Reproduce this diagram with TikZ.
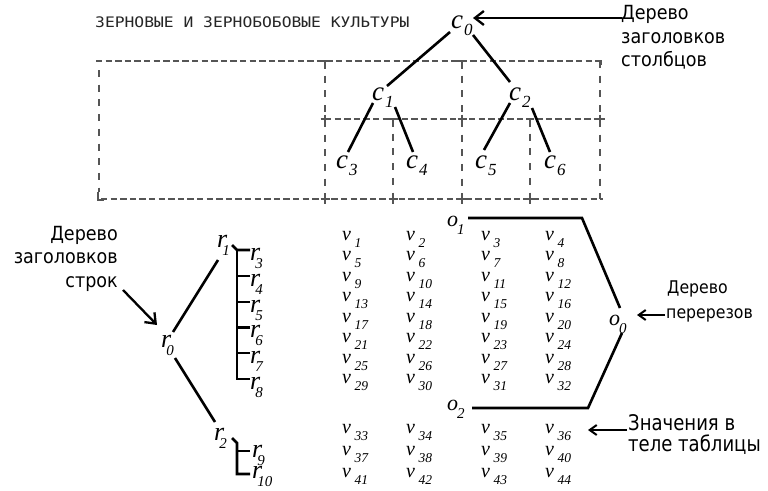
\documentclass[tikz,border=0pt]{standalone}
\usepackage{fontspec}
\setmainfont{Liberation Serif}
\newfontfamily\labfont{DejaVu Sans}
\newfontfamily\ttlfont{DejaVu Sans Mono}
\usetikzlibrary{arrows.meta}
\definecolor{gridgray}{HTML}{555555}
\newcommand\cl[1]{{\fontsize{27}{27}\selectfont\itshape c}\kern1pt\raisebox{-7pt}{\fontsize{17}{17}\selectfont\itshape #1}}
\newcommand\vl[1]{{\fontsize{20}{20}\selectfont\itshape v}\kern3.5pt\raisebox{-7pt}{\fontsize{13.5}{13.5}\selectfont\itshape #1}}
\newcommand\rl[1]{{\fontsize{26}{26}\selectfont\itshape r}\kern-5pt\raisebox{-8pt}{\fontsize{15}{15}\selectfont\itshape #1}}
\newcommand\ol[1]{{\fontsize{22}{22}\selectfont\itshape o}\kern-1pt\raisebox{-8pt}{\fontsize{15}{15}\selectfont\itshape #1}}
\newcommand\lt[1]{\scalebox{0.9}[1]{#1}}
\newcommand\ltn[1]{\scalebox{0.84}[1]{#1}}
\begin{document}
\begin{tikzpicture}[x=1pt,y=-1pt,
  lab/.style={inner sep=0pt,anchor=base west},
  txt/.style={inner sep=0pt,font={\labfont\fontsize{19.5}{19.5}\selectfont}},
  txtsm/.style={inner sep=0pt,font={\labfont\fontsize{17.5}{17.5}\selectfont}},
  txtbig/.style={inner sep=0pt,font={\labfont\fontsize{21.5}{21.5}\selectfont}},
  edge/.style={line width=2.6pt,line join=miter},
  hgrid/.style={line width=1.2pt,draw=gridgray,dash pattern=on 6.3pt off 3.3pt},
  vgrid/.style={line width=1.2pt,draw=gridgray,dash pattern=on 7pt off 7.7pt},
  gmark/.style={line width=1.2pt,draw=gridgray},
  arr/.style={line width=2.3pt,-{Straight Barb[length=9pt,width=14pt]}},
  arrsm/.style={line width=2pt,-{Straight Barb[length=7pt,width=10pt]}}]
\useasboundingbox (0,0) rectangle (768,490);
\fill[white] (0,0) rectangle (768,490);

% title
\node[lab,font={\ttlfont\fontsize{14.5}{14.5}\selectfont},text=black!85] (title) at (95,27)
  {\scalebox{1.125}[1]{ЗЕРНОВЫЕ И ЗЕРНОБОБОВЫЕ КУЛЬТУРЫ}};

% grid
\draw[hgrid] (96,61) -- (600,61);
\draw[hgrid] (325,119) -- (600,119);
\draw[hgrid] (101,199) -- (603,199);
\draw[vgrid] (99,70) -- (99,192);
\foreach \x in {325,462,600} \draw[vgrid] (\x,61) -- (\x,199);
\foreach \x in {393,530} \draw[vgrid] (\x,119) -- (\x,199);
\foreach \x in {325,462} \draw[gmark] (\x-4,61) -- (\x+4,61) (\x,61) -- (\x,69);
\foreach \x in {393,530} \draw[gmark] (\x-4,119) -- (\x+4,119) (\x,119) -- (\x,127);
\foreach \p in {(325,119),(462,119),(600,119),(325,199),(393,199),(462,199),(530,199)}
  \draw[gmark] \p ++(-4.5,0) -- ++(9,0) \p ++(0,-4.5) -- ++(0,9);
\draw[gmark] (98,192) -- (98,200) -- (104,200);
\draw[gmark] (596,61) -- (601,61) -- (601,65);

% column header tree
\node[lab] (c0) at (451,28) {\cl{0}};
\node[lab] (c1) at (372,100) {\cl{1}};
\node[lab] (c2) at (509,100) {\cl{2}};
\node[lab] (c3) at (336,168) {\cl{3}};
\node[lab] (c4) at (406,168) {\cl{4}};
\node[lab] (c5) at (475,168) {\cl{5}};
\node[lab] (c6) at (544,168) {\cl{6}};
\draw[edge] ([shift={(-1,4)}]c0.base west) -- ([shift={(15,-14)}]c1.base west);
\draw[edge] ([shift={(22,7)}]c0.base west) -- ([shift={(1,-18)}]c2.base west);
\draw[edge] ([shift={(1,3)}]c1.base west) -- ([shift={(12,-16)}]c3.base west);
\draw[edge] ([shift={(23,7)}]c1.base west) -- ([shift={(7,-16)}]c4.base west);
\draw[edge] ([shift={(1,3)}]c2.base west) -- ([shift={(9,-18)}]c5.base west);
\draw[edge] ([shift={(23,8)}]c2.base west) -- ([shift={(6,-16)}]c6.base west);

% values
\foreach \r/\y in {0/240,1/260.5,2/281,3/301.5,4/322,5/342.5,6/363,7/383.5,8/433,9/455,10/477}
  \foreach \c/\x in {1/342,2/406,3/481,4/545} {
    \pgfmathtruncatemacro\n{4*\r+\c}
    \node[lab] (v\n) at (\x,\y) {\vl{\n}};
  }

% row header tree
\node[lab] (r0) at (161,347) {\rl{0}};
\node[lab] (r1) at (217,247) {\rl{1}};
\node[lab] (r2) at (214,440) {\rl{2}};
\foreach \k/\y in {3/260,4/286,5/312,6/337.5,7/363,8/389}
  \node[lab] (r\k) at (250,\y) {\rl{\k}};
\node[lab] (r9) at (252,457) {\rl{9}};
\node[lab] (r10) at (252,478) {\rl{10}};
\draw[edge] ([shift={(12,-15)}]r0.base west) -- ([shift={(1,13)}]r1.base west);
\draw[edge] ([shift={(14,11)}]r0.base west) -- ([shift={(1,-18)}]r2.base west);
\draw[edge] ([shift={(15,-2)}]r1.base west) -- ([shift={(-13,-10)}]r3.base west) -- ([shift={(0,-10)}]r3.base west);
\draw[edge] ([shift={(-13,-10)}]r3.base west) |- ([shift={(0,-10)}]r8.base west);
\foreach \k in {4,5,6,7}
  \draw[edge] ([shift={(0,-10)}]r\k.base west) -- ++(-13,0);
\draw[edge] ([shift={(18,-2)}]r2.base west) -- ++(5,5) |- ([shift={(-2,-4)}]r10.base west);
\draw[edge] ([shift={(-15,-6)}]r9.base west) -- ([shift={(-2,-6)}]r9.base west);

% cut tree
\node[lab] (o1) at (447,226) {\ol{1}};
\node[lab] (o0) at (609,325) {\ol{0}};
\node[lab] (o2) at (447,410) {\ol{2}};
\draw[edge] ([shift={(21,-8)}]o1.base west) -- ([shift={(-27,-107)}]o0.base west) -- ([shift={(11,-17)}]o0.base west);
\draw[edge] ([shift={(13,8)}]o0.base west) -- ([shift={(141,-2)}]o2.base west) -- ([shift={(25,-2)}]o2.base west);

% labels
\node[txt,anchor=base west] (ta1) at (621,19) {\lt{Дерево}};
\node[txt,anchor=base west] (ta2) at (621,43) {\lt{заголовков}};
\node[txt,anchor=base west] (ta3) at (621,66) {\lt{столбцов}};
\node[txt,anchor=base east] (tl1) at (118,240) {\lt{Дерево}};
\node[txt,anchor=base east] (tl2) at (118,263) {\lt{заголовков}};
\node[txt,anchor=base east] (tl3) at (118,287) {\lt{строк}};
\node[txtsm,anchor=base west] (to1) at (667,293) {\lt{Дерево}};
\node[txtsm,anchor=base west] (to2) at (666,318) {\lt{перерезов}};
\node[txtbig,anchor=base west] (tv1) at (628,430) {\ltn{Значения в}};
\node[txtbig,anchor=base west] (tv2) at (628,451) {\ltn{теле таблицы}};

% arrows
\draw[arr] ([shift={(1,-1)}]ta1.base west) -- ([shift={(22,-10)}]c0.base west);
\draw[arr] ([shift={(5,3)}]tl3.base east) -- ([shift={(-4,-22)}]r0.base west);
\draw[arrsm] ([shift={(-1,-3)}]to2.base west) -- ([shift={(28,-10)}]o0.base west);
\draw[arrsm] ([shift={(-1,0)}]tv1.base west) -- ([shift={(43,-3)}]v36.base west);
\end{tikzpicture}
\end{document}
